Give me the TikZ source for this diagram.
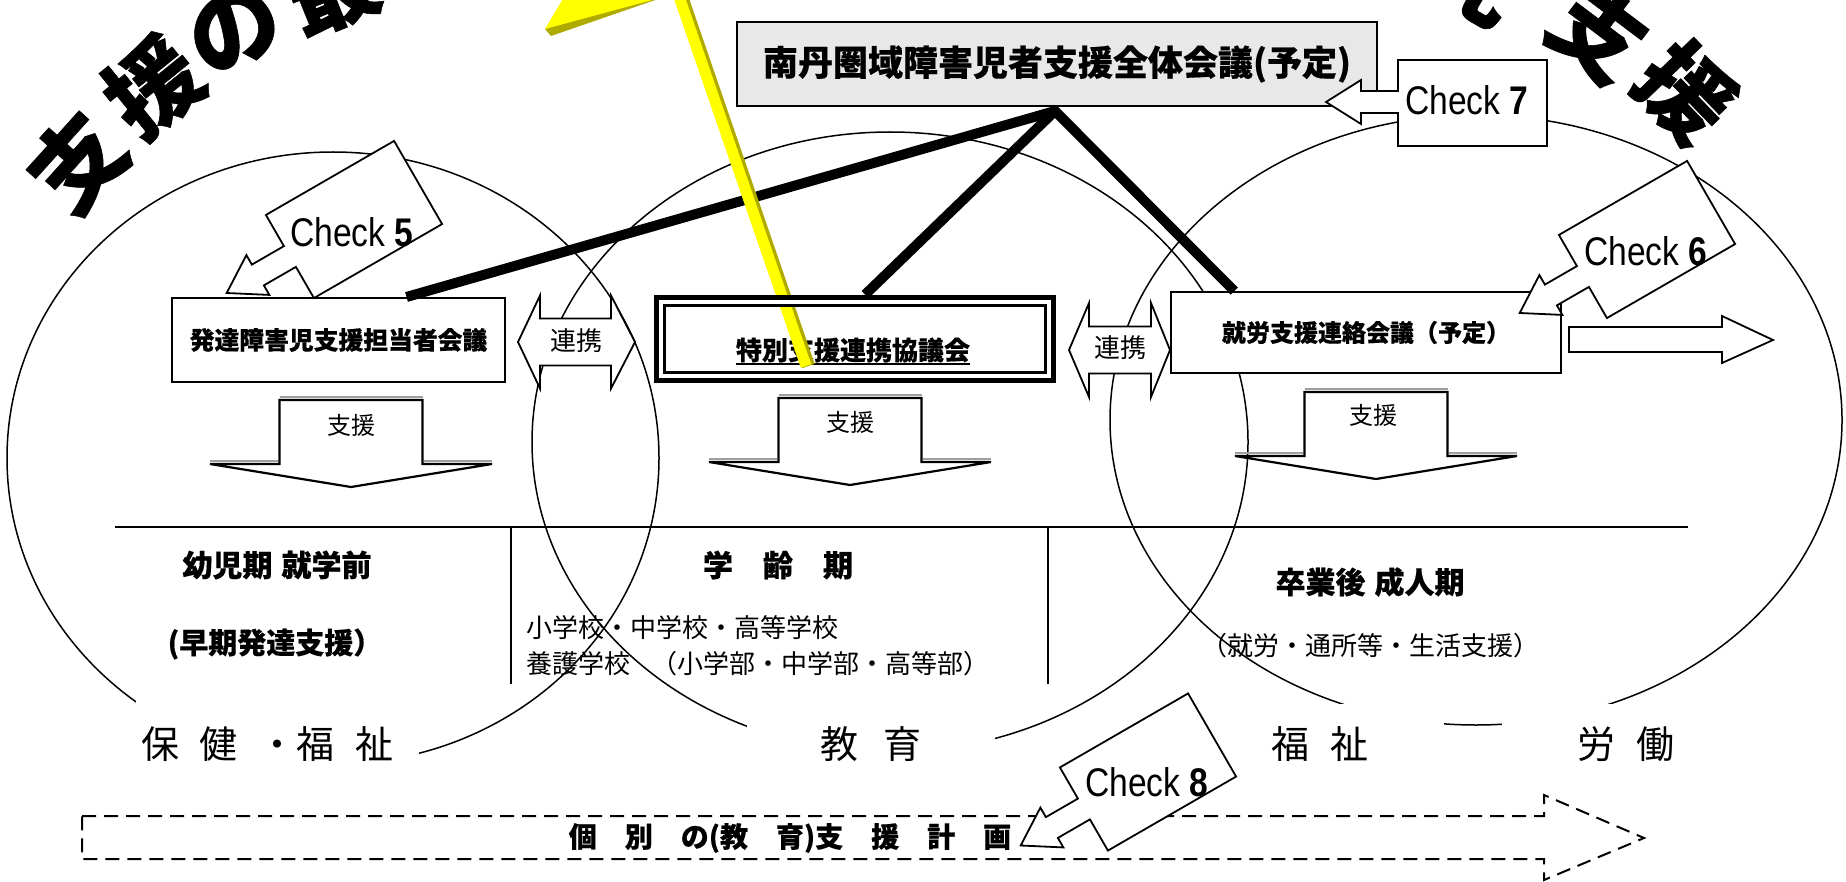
\documentclass[tikz,border=0pt]{standalone}
\usepackage{fontspec}
\usepackage{graphicx}
\usetikzlibrary{calc}
\newfontfamily\jp{Noto Sans CJK JP}[BoldFeatures={FakeBold=0.4}]
\newfontfamily\jph{Noto Sans CJK JP}[BoldFeatures={FakeBold=0.6}]
\newfontfamily\arl{Liberation Sans}
\newcommand{\fsz}[1]{\fontsize{#1}{#1}\selectfont}
\definecolor{boxgray}{RGB}{232,232,232}
\definecolor{ylw}{RGB}{255,255,0}
\definecolor{ylwdark}{RGB}{175,170,0}
\begin{document}
\begin{tikzpicture}[x=0.5pt,y=-0.5pt,
  ell/.style={line width=0.75pt},
  boxst/.style={draw, line width=1pt, fill=white, inner sep=0pt},
  jb/.style={font=\jp\bfseries, inner sep=0pt},
  jr/.style={font=\jp, inner sep=0pt},
  heavy/.style={line width=5pt},
  blk/.style={draw, line width=0.9pt, fill=white, line join=miter},
  lbl/.style={fill=white, inner sep=0pt, font=\jp\fsz{19pt}},
  chk/.style={font=\arl, inner sep=0pt},
  ttl/.style={font=\jph\bfseries\fsz{46pt}, inner sep=0pt},
  callout/.pic={\draw[blk] (-74,-48) -- (74,-48) -- (74,48) -- (-74,48) -- (-74,12) -- (-111,12) -- (-111,23) -- (-147,0) -- (-111,-23) -- (-111,-12) -- (-74,-12) -- cycle;},
  downarr/.pic={
    \draw[blk, line width=1.1pt] (-71.5,0) -- (71.5,0) -- (71.5,64) -- (141,64) -- (0,87) -- (-141,64) -- (-71.5,64) -- cycle;
    \draw[gray!75, line width=1.3pt] (-71.5,-3) -- (71.5,-3);
    \draw[gray!75, line width=1.3pt] (-141,61) -- (-73,61);
    \draw[gray!75, line width=1.3pt] (73,61) -- (141,61);}
]
\clip (0,0) rectangle (1846,882);
\fill[white] (0,0) rectangle (1846,882);

% ellipses
\draw[ell] (333,458) ellipse [x radius=163pt, y radius=153pt];
\draw[ell] (890,442) ellipse [x radius=179pt, y radius=155pt];
\draw[ell] (1476,420) ellipse [x radius=183pt, y radius=152.5pt];

% table lines
\coordinate (hl) at (115,527);
\coordinate (hr) at (1688,527);
\draw[line width=1pt] (hl) -- (hr);
\draw[line width=1pt] (511,527) -- (511,684);
\draw[line width=1pt] (1048,527) -- (1048,684);

% bottom labels (white boxes)
\node[lbl, text width=136.5pt, inner xsep=2.5pt, minimum height=45pt, align=left] (hofuku) at (277.5,744) {保\hspace{0.55em}健\hspace{0.55em}・福\hspace{0.55em}祉};
\node[lbl, minimum width=124pt, minimum height=40pt] (kyoiku) at (871,744) {教\hspace{0.65em}育};
\node[lbl, minimum width=124pt, minimum height=40pt] (fukushi) at (1320,744) {福\hspace{0.55em}祉};
\node[lbl, minimum width=124pt, minimum height=40pt] (roudou) at (1626,744) {労\hspace{0.55em}働};

% period texts
\node[jb, font=\jp\bfseries\fsz{15pt}] (youji) at (277,565) {幼児期\hspace{0.3em}就学前};
\node[jb, font=\jp\bfseries\fsz{14.5pt}] (souki) at (275,644) {(早期発達支援）};
\node[jb, font=\jp\bfseries\fsz{15pt}] (gakurei) at (778,565) {学　齢　期};
\node[jr, font=\jp\fsz{13pt}, anchor=west] (shogaku) at (526,628) {小学校・中学校・高等学校};
\node[jr, font=\jp\fsz{13pt}, anchor=west] (yogo) at (526,664) {養護学校\hspace{0.8em}（小学部・中学部・高等部）};
\node[jb, font=\jp\bfseries\fsz{15pt}] (sotsu) at (1370,582) {卒業後\hspace{0.3em}成人期};
\node[jr, font=\jp\fsz{13pt}] (shuro2) at (1370,646) {（就労・通所等・生活支援）};

% main boxes
\node[boxst, fill=boxgray, minimum width=320pt, minimum height=42pt, font=\jp\bfseries\fsz{17.5pt}] (zentai) at (1057,64) {南丹圏域障害児者支援全体会議(予定)};
\node[boxst, minimum width=166.5pt, minimum height=42pt, font=\jp\bfseries\fsz{12.4pt}] (hattatsu) at (338.5,340) {発達障害児支援担当者会議};
\node[boxst, minimum width=195pt, minimum height=40.5pt, font=\jp\bfseries\fsz{12pt}] (shuro) at (1366,332.5) {就労支援連絡会議（予定）};
\node[draw=none, fill=white, minimum width=201pt, minimum height=44pt, inner sep=0pt] (tokubetsu) at (855,339) {};
\node[jb, font=\jp\bfseries\fsz{13pt}] (toktext) at (853,350) {特別支援連携協議会};
\draw[line width=1pt] ($(toktext.south west)+(0,1)$) -- ($(toktext.south east)+(0,1)$);

% renkei double arrows
\draw[blk] (518,342) -- (540,295.5) -- (540,318.5) -- (611,318.5) -- (611,295.5) -- (635,342) -- (611,388.5) -- (611,365.5) -- (540,365.5) -- (540,388.5) -- cycle;
\node[jr, font=\jp\fsz{13pt}] (renkei1) at (576.5,341) {連携};
\draw[blk] (1069,350) -- (1089,303) -- (1089,326.5) -- (1151,326.5) -- (1151,303) -- (1170,350) -- (1151,397) -- (1151,373.5) -- (1089,373.5) -- (1089,397) -- cycle;
\node[jr, font=\jp\fsz{13pt}] (renkei2) at (1120,348) {連携};

% shien down arrows
\pic at (351,400) {downarr};
\node[jr, font=\jp\fsz{12pt}] (shien1) at (351,425) {支援};
\pic at (850,398) {downarr};
\node[jr, font=\jp\fsz{12pt}] (shien2) at (850,422) {支援};
\pic at (1376,392) {downarr};
\node[jr, font=\jp\fsz{12pt}] (shien3) at (1373,415) {支援};

% right block arrow
\draw[blk] (1569,327) -- (1722,327) -- (1722,316) -- (1773,340) -- (1722,363) -- (1722,352) -- (1569,352) -- cycle;

% dashed plan arrow
\draw[dash pattern=on 7pt off 4pt, line width=1pt, fill=white] (82,816) -- (1544,816) -- (1544,795) -- (1644,838) -- (1544,880) -- (1544,859) -- (82,859) -- cycle;
\node[jb, font=\jp\bfseries\fsz{14pt}] (keikaku) at (790,838) {個　別　の(教　育)支　援　計　画};

% heavy connectors
\coordinate (apex) at ($(zentai.south)+(-2,4)$);
\draw[heavy, line join=miter] ($(hattatsu.north west)!0.703!(hattatsu.north east)$) -- (apex) -- ($(shuro.north west)!0.164!(shuro.north east)$);
\draw[heavy] (apex) -- ($(tokubetsu.north west)!0.525!(tokubetsu.north east)$);

% yellow shapes
\fill[ylwdark] (545,29) -- (551,36) -- (661,-2) -- (652,-2) -- cycle;
\fill[ylw] (545,29) -- (580,-30) -- (763,-30) -- cycle;
\draw[ylwdark, line width=6.5pt] (681,-5) -- (808.5,366);
\draw[ylw, line width=5.5pt] (678.5,-5) -- (806,366);

% tokubetsu double frame
\draw[line width=2.5pt] ($(tokubetsu.north west)+(2.5,2.5)$) rectangle ($(tokubetsu.south east)+(-2.5,-2.5)$);
\draw[white, line width=2pt] ($(tokubetsu.north west)+(7,7)$) rectangle ($(tokubetsu.south east)+(-7,-7)$);
\draw[line width=1.8pt] ($(tokubetsu.north west)+(11,11)$) rectangle ($(tokubetsu.south east)+(-11,-11)$);

% check callouts
\pic[rotate=30] at (354,219.5) {callout};
\node[chk] (c5) at (352,232) {\scalebox{0.84}[1]{\fsz{20pt}Check \textbf{5}}};
\pic[rotate=30] at (1647,239.5) {callout};
\node[chk] (c6) at (1646,251) {\scalebox{0.84}[1]{\fsz{20pt}Check \textbf{6}}};
\pic[rotate=30] at (1148,772) {callout};
\node[chk] (c8) at (1147,782) {\scalebox{0.84}[1]{\fsz{20pt}Check \textbf{8}}};
\draw[blk] (1398,60) -- (1547,60) -- (1547,146) -- (1398,146) -- (1398,113) -- (1361,113) -- (1361,124) -- (1326,102) -- (1361,80) -- (1361,91) -- (1398,91) -- cycle;
\node[chk] (c7) at (1467,100) {\scalebox{0.84}[1]{\fsz{20pt}Check \textbf{7}}};

% arched title (visible part)
\node[ttl, rotate=48] (t1) at (77,162) {支};
\node[ttl, rotate=39] (t2) at (153,86) {援};
\node[ttl, rotate=29] (t3) at (234,30) {の};
\node[ttl, rotate=22] (t4) at (332,-12) {最};
\node[ttl, rotate=-30] (t5) at (1475,-24) {児};
\node[ttl, rotate=-37] (t6) at (1598,32) {支};
\node[ttl, rotate=-46] (t7) at (1686,92) {援};
\end{tikzpicture}
\end{document}
